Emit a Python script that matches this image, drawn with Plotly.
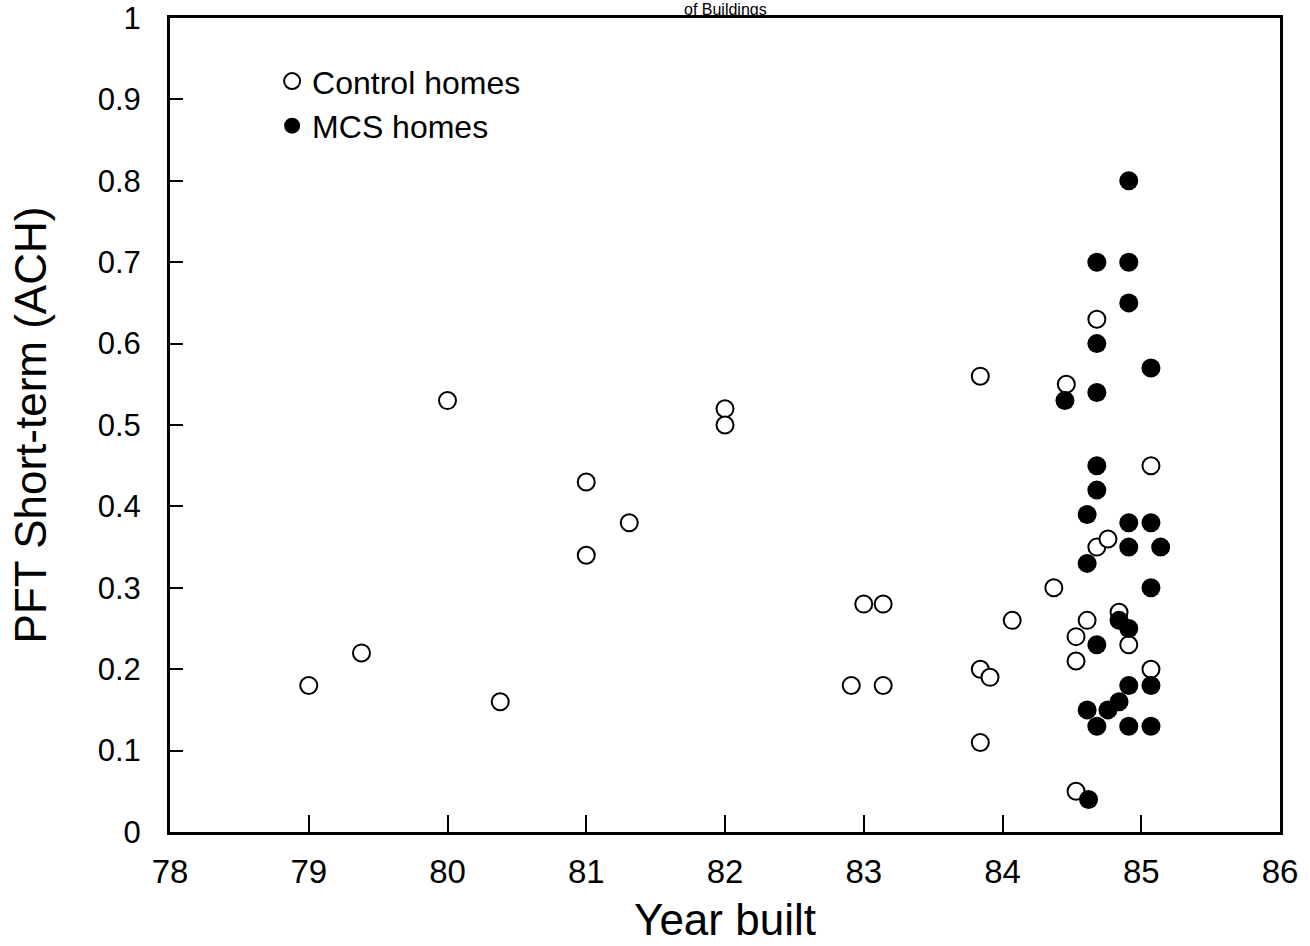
import plotly.graph_objects as go

# Control homes (open circles)
control_year = [79.0, 79.38, 80.0, 80.38, 81.0, 81.0, 81.31, 82.0, 82.0, 82.91, 83.0, 83.14, 83.14,
                83.84, 83.84, 83.84, 83.91, 84.07, 84.37, 84.46, 84.53, 84.53, 84.53, 84.61,
                84.68, 84.68, 84.76, 84.84, 84.91, 85.07, 85.07]
control_pft = [0.18, 0.22, 0.53, 0.16, 0.43, 0.34, 0.38, 0.52, 0.50, 0.18, 0.28, 0.28, 0.18,
               0.56, 0.20, 0.11, 0.19, 0.26, 0.30, 0.55, 0.24, 0.21, 0.05, 0.26,
               0.63, 0.35, 0.36, 0.27, 0.23, 0.45, 0.20]

# MCS homes (filled circles)
mcs_year = [84.91, 84.68, 84.91, 84.91, 84.68, 85.07, 84.68, 84.45, 84.68, 84.68, 84.61,
            84.91, 85.07, 84.91, 85.14, 84.61, 85.07, 84.84, 84.91, 84.68, 84.91, 85.07,
            84.84, 84.76, 84.61, 84.68, 84.91, 85.07, 84.62]
mcs_pft = [0.80, 0.70, 0.70, 0.65, 0.60, 0.57, 0.54, 0.53, 0.45, 0.42, 0.39,
           0.38, 0.38, 0.35, 0.35, 0.33, 0.30, 0.26, 0.25, 0.23, 0.18, 0.18,
           0.16, 0.15, 0.15, 0.13, 0.13, 0.13, 0.04]

x_ticks = [78, 79, 80, 81, 82, 83, 84, 85, 86]
y_ticks = [0, 0.1, 0.2, 0.3, 0.4, 0.5, 0.6, 0.7, 0.8, 0.9, 1.0]
y_ticktext = ["0", "0.1", "0.2", "0.3", "0.4", "0.5", "0.6", "0.7", "0.8", "0.9", "1"]

FONT = "Liberation Sans, Arial, Helvetica, sans-serif"

fig = go.Figure()
fig.add_trace(go.Scatter(
    x=control_year, y=control_pft, mode="markers", name="Control homes",
    legendgroup="a",
    marker=dict(symbol="circle", size=17, color="white",
                line=dict(color="black", width=2)),
))
fig.add_trace(go.Scatter(
    x=mcs_year, y=mcs_pft, mode="markers", name="MCS homes",
    legendgroup="b",
    marker=dict(symbol="circle", size=19, color="black",
                line=dict(color="black", width=0)),
))

fig.add_annotation(
    text="of Buildings", xref="paper", yref="paper", x=0.5, y=1.0221,
    xanchor="center", yanchor="top", showarrow=False, borderpad=0,
    font=dict(size=16, family=FONT, color="black"),
)

fig.update_layout(
    width=1310, height=946,
    margin=dict(l=170, r=30, t=18, b=114),
    paper_bgcolor="white", plot_bgcolor="white",
    font=dict(family=FONT, color="black"),
    showlegend=True,
    legend=dict(x=0.092, y=0.956, xanchor="left", yanchor="top",
                bgcolor="rgba(0,0,0,0)", font=dict(size=32, family=FONT),
                tracegroupgap=0, itemsizing="trace"),
    xaxis=dict(
        range=[78, 86], tickvals=x_ticks, ticktext=[str(v) for v in x_ticks],
        showgrid=False, zeroline=False, showline=True, linecolor="black",
        linewidth=3, mirror=True, ticks="inside", ticklen=17, tickwidth=1.5,
        tickcolor="black", tickfont=dict(size=33, family=FONT),
        ticklabelstandoff=8, automargin=False,
        title=dict(text="Year built", font=dict(size=44, family=FONT), standoff=16),
    ),
    yaxis=dict(
        range=[0, 1], tickvals=y_ticks, ticktext=y_ticktext,
        showgrid=False, zeroline=False, showline=True, linecolor="black",
        linewidth=3, mirror=True, ticks="inside", ticklen=13, tickwidth=1.5,
        tickcolor="black", tickfont=dict(size=31, family=FONT),
        ticklabelstandoff=20, automargin=False,
        title=dict(text="PFT Short-term (ACH)", font=dict(size=44, family=FONT), standoff=38),
    ),
)

fig.write_html("out.html")
